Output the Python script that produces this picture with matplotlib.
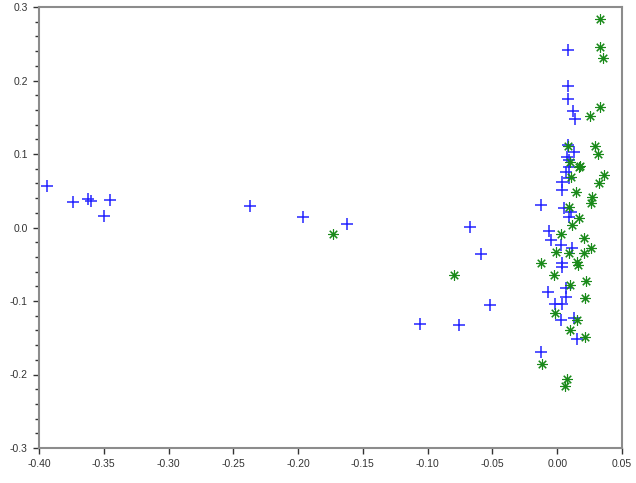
import matplotlib
matplotlib.use("Agg")
import matplotlib.pyplot as plt
from matplotlib.ticker import MultipleLocator, FormatStrFormatter

blue_x = [-0.394, -0.374, -0.362, -0.360, -0.350, -0.345, -0.237, -0.196, -0.162,
          -0.067, -0.059, -0.052, -0.106, -0.076,
          0.0083, 0.0083, 0.0083, 0.0122, 0.0137, 0.0083, 0.0130, 0.0076, 0.0091,
          0.0091, 0.0068, 0.0091, 0.0037, 0.0037, -0.0125, 0.0052, 0.0106, 0.0091,
          -0.0063, -0.0048, 0.0029, 0.0114, 0.0037, 0.0037, -0.0071, 0.0068, 0.0068,
          -0.0017, 0.0037, 0.0029, 0.0130, 0.0153, -0.0125]
blue_y = [0.056, 0.035, 0.039, 0.036, 0.016, 0.037, 0.029, 0.014, 0.005,
          0.001, -0.036, -0.105, -0.131, -0.133,
          0.241, 0.193, 0.175, 0.158, 0.148, 0.112, 0.103, 0.096, 0.092,
          0.082, 0.076, 0.067, 0.062, 0.051, 0.031, 0.027, 0.021, 0.014,
          -0.005, -0.017, -0.024, -0.028, -0.048, -0.054, -0.088, -0.082, -0.095,
          -0.104, -0.104, -0.126, -0.123, -0.152, -0.169]

green_x = [-0.173, -0.080,
           0.0330, 0.0330, 0.0353, 0.0330, 0.0253, 0.0083, 0.0291, 0.0314, 0.0099,
           0.0176, 0.0168, 0.0106, 0.0361, 0.0322, 0.0145, 0.0268, 0.0260, 0.0091,
           0.0168, 0.0114, 0.0029, 0.0206, -0.0009, 0.0260, 0.0091, 0.0206, 0.0153,
           -0.0125, 0.0160, -0.0025, 0.0222, 0.0099, 0.0214, -0.0017, 0.0153, 0.0099,
           0.0214, -0.0117, 0.0076, 0.0060]
green_y = [-0.009, -0.065,
           0.284, 0.246, 0.231, 0.164, 0.152, 0.111, 0.111, 0.100, 0.089,
           0.084, 0.082, 0.069, 0.071, 0.061, 0.048, 0.041, 0.033, 0.028,
           0.013, 0.003, -0.009, -0.014, -0.033, -0.028, -0.035, -0.035, -0.047,
           -0.048, -0.051, -0.065, -0.073, -0.078, -0.096, -0.116, -0.126, -0.139,
           -0.149, -0.186, -0.206, -0.216]

x_ticks = [-0.40, -0.35, -0.30, -0.25, -0.20, -0.15, -0.10, -0.05, 0.00, 0.05]
y_ticks = [-0.3, -0.2, -0.1, 0.0, 0.1, 0.2, 0.3]

plt.rcParams['font.family'] = ['Liberation Sans', 'DejaVu Sans']

fig = plt.figure(figsize=(6.36, 4.83), dpi=100)
ax = fig.add_axes([39/636, 1 - 448/483, (622 - 39)/636, (448 - 7)/483])

ax.plot(blue_x, blue_y, linestyle='none', marker='+', markersize=8,
        markeredgewidth=1.1, color='#2525ff')
ax.plot(green_x, green_y, linestyle='none', marker=(8, 2, 0), markersize=7.5,
        markeredgewidth=0.8, color='#1a8a1a')

ax.set_xlim(-0.40, 0.05)
ax.set_ylim(-0.3, 0.3)
ax.set_xticks(x_ticks)
ax.set_yticks(y_ticks)
ax.xaxis.set_major_formatter(FormatStrFormatter('%.2f'))
ax.yaxis.set_major_formatter(FormatStrFormatter('%.1f'))
ax.yaxis.set_minor_locator(MultipleLocator(0.02))

for s in ax.spines.values():
    s.set_color('#8c8c8c')
    s.set_linewidth(1.5)

ax.tick_params(axis='both', which='major', direction='out', length=4, width=1,
               color='#333333', labelsize=7.5, labelcolor='#333333', pad=4)
ax.tick_params(axis='y', which='minor', direction='out', length=3, width=1,
               color='#333333')

fig.savefig('out.png', dpi=100, facecolor='white')
